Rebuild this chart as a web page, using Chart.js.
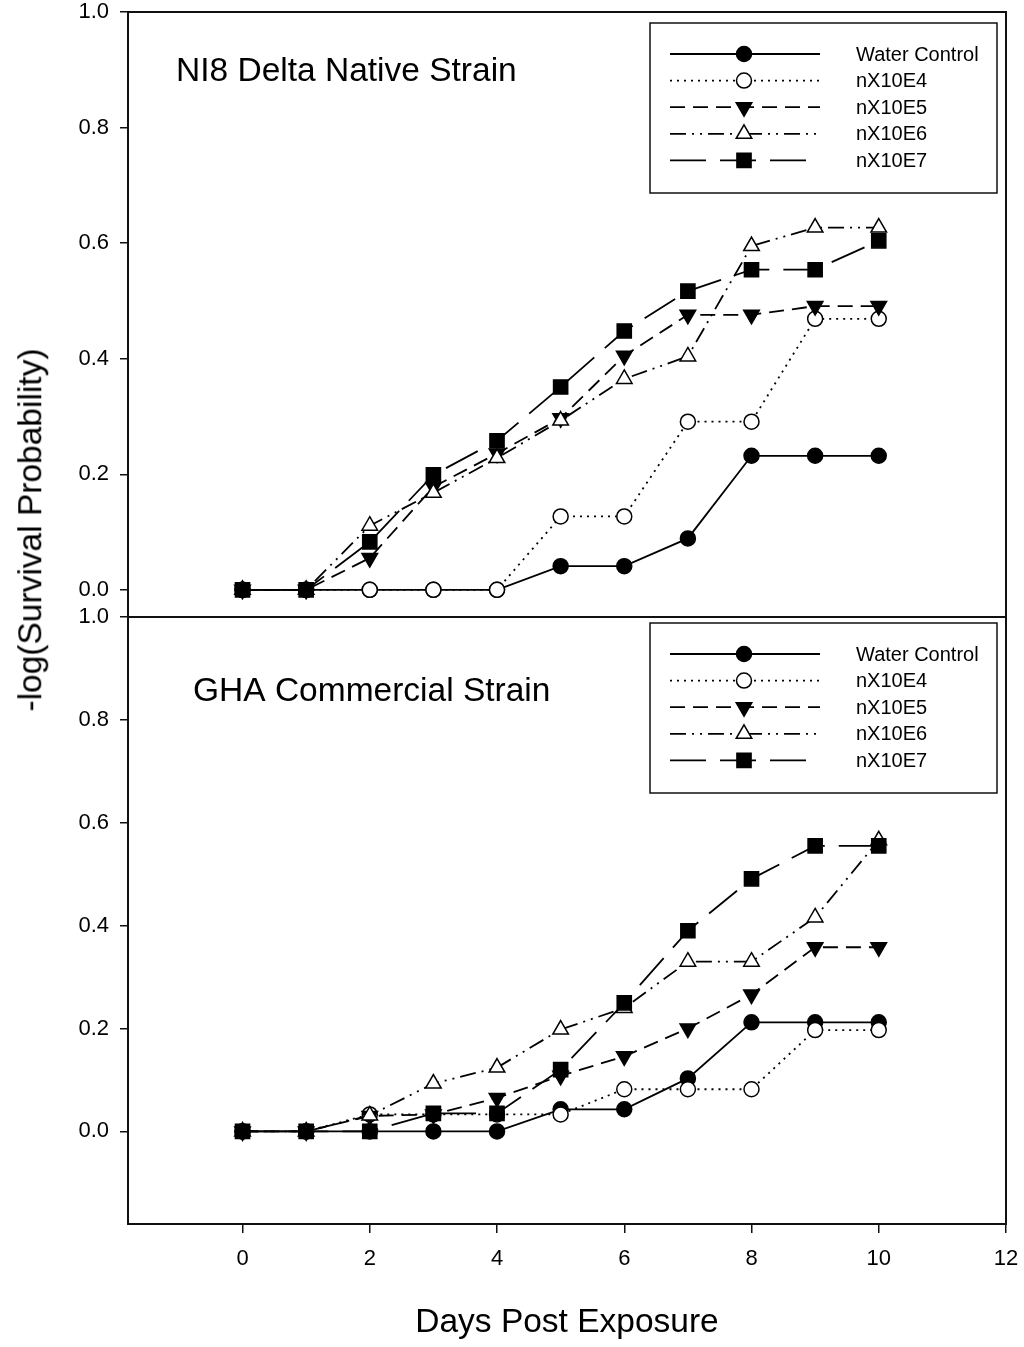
<!DOCTYPE html>
<html>
<head>
<meta charset="utf-8">
<title>Survival curves</title>
<script src="https://cdn.jsdelivr.net/npm/chart.js@4/dist/chart.umd.min.js"></script>
<style>
  body { margin: 0; background: #fff; }
  #wrap { position: relative; width: 1024px; height: 1347px; overflow: hidden; }
  .box { position: absolute; left: 0; width: 1024px; }
  #yTitle {
    position: absolute; left: 30px; top: 530px;
    transform: translate(-50%, -50%) rotate(-90deg);
    font: 33.5px "Liberation Sans", Arial, sans-serif; line-height: 1;
    white-space: nowrap; color: #000;
  }
</style>
</head>
<body>
<div id="wrap">
  <div class="box" style="top:0;height:640px"><canvas id="topChart"></canvas></div>
  <div class="box" style="top:600px;height:747px"><canvas id="bottomChart"></canvas></div>
  <div id="yTitle">-log(Survival Probability)</div>
</div>
<script>
// --- data ---
const days = [0, 1, 2, 3, 4, 5, 6, 7, 8, 9, 10];
const seriesNames = ["Water Control", "nX10E4", "nX10E5", "nX10E6", "nX10E7"];
const yTicks = [0, 0.2, 0.4, 0.6, 0.8, 1.0];
const xTicks = [0, 2, 4, 6, 8, 10, 12];

// NI8 Delta Native Strain (top)
const ni8Water = [0, 0, 0, 0, 0, 0.041, 0.041, 0.089, 0.232, 0.232, 0.232];
const ni8E4 = [0, 0, 0, 0, 0, 0.127, 0.127, 0.291, 0.291, 0.469, 0.469];
const ni8E5 = [0, 0, 0.055, 0.178, 0.236, 0.297, 0.405, 0.476, 0.476, 0.491, 0.491];
const ni8E6 = [0, 0, 0.111, 0.168, 0.228, 0.293, 0.365, 0.404, 0.595, 0.627, 0.627];
const ni8E7 = [0, 0, 0.083, 0.199, 0.258, 0.351, 0.448, 0.517, 0.554, 0.554, 0.604];

// GHA Commercial Strain (bottom)
const ghaWater = [0, 0, 0, 0, 0, 0.043, 0.043, 0.103, 0.212, 0.212, 0.212];
const ghaE4 = [0, 0, 0.033, 0.033, 0.033, 0.033, 0.082, 0.082, 0.082, 0.197, 0.197];
const ghaE5 = [0, 0, 0.03, 0.033, 0.065, 0.108, 0.146, 0.2, 0.266, 0.358, 0.358];
const ghaE6 = [0, 0, 0.031, 0.093, 0.124, 0.198, 0.24, 0.33, 0.33, 0.416, 0.566];
const ghaE7 = [0, 0, 0, 0.035, 0.035, 0.12, 0.25, 0.39, 0.491, 0.555, 0.555];

// --- styling per series ---
const lineDashes = [[], [2, 5], [15, 8], [16, 6, 2, 6, 2, 6], [36, 14]];
const pointStyles = ["circle", "circle", "triangle", "triangle", "rect"];
const pointRotations = [0, 0, 180, 0, 0];
const pointSizes = [7.5, 7.5, 9, 9, 10];
const pointFills = ["#000", "#fff", "#000", "#fff", "#000"];

const FONT = '"Liberation Sans", Arial, sans-serif';
Chart.defaults.font.family = FONT;
Chart.defaults.color = "#000";

function makeDatasets(values) {
  return seriesNames.map((name, i) => ({
    label: name,
    data: days.map((d, j) => ({ x: d, y: values[i][j] })),
    borderColor: "#000",
    borderWidth: 1.8,
    borderDash: lineDashes[i],
    pointStyle: pointStyles[i],
    pointRotation: pointRotations[i],
    pointRadius: pointSizes[i],
    pointBackgroundColor: pointFills[i],
    pointBorderColor: "#000",
    pointBorderWidth: 1.5,
    order: seriesNames.length - i,
    tension: 0,
    fill: false
  }));
}

// frame, panel title and the line+marker legend
const panelDecor = {
  id: "panelDecor",
  afterDraw(chart, args, opts) {
    const { ctx, chartArea: a } = chart;
    ctx.save();
    ctx.strokeStyle = "#111";
    ctx.lineWidth = 2;
    ctx.strokeRect(a.left, a.top, a.right - a.left, a.bottom - a.top);

    ctx.fillStyle = "#000";
    ctx.font = "33.5px " + FONT;
    ctx.textBaseline = "middle";
    ctx.textAlign = "left";
    ctx.fillText(opts.title, opts.titleX, opts.titleY);

    const b = opts.legendBox;
    ctx.lineWidth = 1.5;
    ctx.strokeRect(b.x, b.y, b.w, b.h);
    ctx.font = "20px " + FONT;
    chart.data.datasets.forEach((ds, i) => {
      const y = b.y + 31 + i * 26.6;
      ctx.save();
      ctx.setLineDash(ds.borderDash);
      ctx.lineWidth = ds.borderWidth;
      ctx.strokeStyle = ds.borderColor;
      ctx.beginPath();
      ctx.moveTo(b.x + 20, y);
      ctx.lineTo(b.x + 170, y);
      ctx.stroke();
      ctx.restore();
      ctx.fillStyle = ds.pointBackgroundColor;
      ctx.strokeStyle = ds.pointBorderColor;
      ctx.lineWidth = ds.pointBorderWidth;
      Chart.helpers.drawPoint(ctx, {
        pointStyle: ds.pointStyle, rotation: ds.pointRotation,
        radius: ds.pointRadius, borderWidth: ds.pointBorderWidth
      }, b.x + 94, y);
      ctx.fillStyle = "#000";
      ctx.fillText(ds.label, b.x + 206, y + 1);
    });
    ctx.restore();
  }
};

function yScale(min) {
  return {
    min: min, max: 1.0,
    border: { display: false },
    grid: { drawOnChartArea: false, tickLength: 8, color: "#111", lineWidth: 1.5 },
    ticks: { font: { size: 22 }, padding: 11, callback: v => v.toFixed(1) },
    afterBuildTicks: s => { s.ticks = yTicks.map(v => ({ value: v })); },
    afterFit: s => { s.width = 128; s.paddingTop = 0; s.paddingBottom = 0; }
  };
}

new Chart(document.getElementById("topChart"), {
  type: "line",
  data: { datasets: makeDatasets([ni8Water, ni8E4, ni8E5, ni8E6, ni8E7]) },
  options: {
    responsive: true, maintainAspectRatio: false, animation: false,
    layout: { padding: { top: 12, right: 18, bottom: 23, left: 0 } },
    scales: {
      x: { type: "linear", min: -1.8, max: 12, display: false },
      y: yScale(-0.047)
    },
    plugins: {
      legend: { display: false }, tooltip: { enabled: false },
      panelDecor: { title: "NI8 Delta Native Strain", titleX: 176, titleY: 72,
                    legendBox: { x: 650, y: 23, w: 347, h: 170 } }
    }
  },
  plugins: [panelDecor]
});

new Chart(document.getElementById("bottomChart"), {
  type: "line",
  data: { datasets: makeDatasets([ghaWater, ghaE4, ghaE5, ghaE6, ghaE7]) },
  options: {
    responsive: true, maintainAspectRatio: false, animation: false,
    layout: { padding: { top: 17, right: 18, bottom: 0, left: 0 } },
    scales: {
      x: {
        type: "linear", min: -1.8, max: 12,
        border: { display: false },
        grid: { drawOnChartArea: false, tickLength: 9, color: "#111", lineWidth: 1.5 },
        ticks: { font: { size: 22 }, padding: 13 },
        title: { display: true, text: "Days Post Exposure", font: { size: 33.5 }, color: "#000",
                 padding: { top: 0, bottom: 4 } },
        afterBuildTicks: s => { s.ticks = xTicks.map(v => ({ value: v })); },
        afterFit: s => { s.height = 123; s.paddingLeft = 0; s.paddingRight = 0; }
      },
      y: yScale(-0.18)
    },
    plugins: {
      legend: { display: false }, tooltip: { enabled: false },
      panelDecor: { title: "GHA Commercial Strain", titleX: 193, titleY: 92,
                    legendBox: { x: 650, y: 23, w: 347, h: 170 } }
    }
  },
  plugins: [panelDecor]
});
</script>
</body>
</html>
